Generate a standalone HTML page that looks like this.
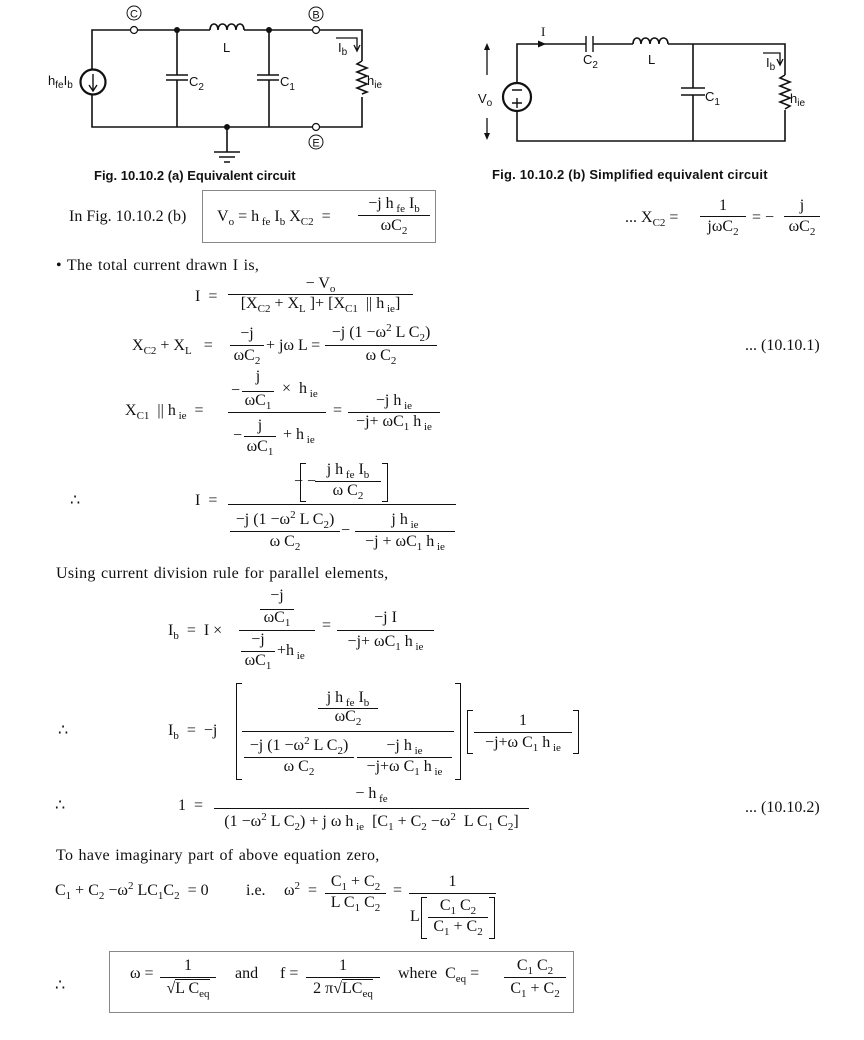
<!DOCTYPE html>
<html><head><meta charset="utf-8">
<style>
body{margin:0;background:#fff}
#p{position:relative;width:864px;height:1040px;overflow:hidden;font-family:"Liberation Serif",serif;font-size:16px;color:#111}
.t{position:absolute;white-space:nowrap;line-height:16px}
.c{position:absolute;white-space:nowrap;line-height:16px;text-align:center}
.l{position:absolute;height:0;border-top:1px solid #111}
.pr{letter-spacing:0.3px;word-spacing:1px}
sub,sup{font-size:11px;line-height:0}
sub{vertical-align:-4px}
sup{vertical-align:6px}
.bx{position:absolute;border:1.5px solid #888}
.br{position:absolute;border:1px solid #111}
.bl{border-right:none;width:5px}
.bR{border-left:none;width:5px}
.cap{position:absolute;font-family:"Liberation Sans",sans-serif;font-weight:bold;font-size:13px;white-space:nowrap}
</style></head><body><div id="p">
<svg width="864" height="200" style="position:absolute;left:0;top:0" font-family="Liberation Sans, sans-serif" font-size="13" fill="none" stroke="#111" stroke-width="1.6">
<path d="M92 69V30H130.5M137.5 30H210M244 30H312.5M319.5 30H362V61M362 97V127H319.5M312.5 127H92V95"/>
<path d="M210 30c0-8 8-8 8 0c0-8 9-8 9 0c0-8 9-8 9 0c0-8 8-8 8 0"/>
<path d="M362 61l-5 3l10 4l-10 4l10 4l-10 4l10 4l-10 4l10 4l-5 2"/>
<circle cx="134" cy="30" r="3.5" stroke-width="1.2"/><circle cx="316" cy="30" r="3.5" stroke-width="1.2"/><circle cx="316" cy="127" r="3.5" stroke-width="1.2"/>
<circle cx="93" cy="82" r="12.5" stroke-width="2.2"/>
<path d="M93 74V90M89 85l4 6l4-6" stroke-width="1.4"/>
<path d="M177 30V75M166 75H188M166 80H188M177 80V127M269 30V75M257 75H279M257 80H279M269 80V127"/>
<path d="M227 127V152M214 152H240M219 157H235M224 162H230"/>
<g fill="#111" stroke="none"><circle cx="177" cy="30" r="3"/><circle cx="269" cy="30" r="3"/><circle cx="227" cy="127" r="3"/></g>
<g stroke-width="1"><circle cx="134" cy="13" r="7"/><circle cx="316" cy="14" r="7"/><circle cx="316" cy="142" r="7"/></g>
<path d="M336 38H357V50M354 45l3 6l3-6" stroke-width="1.3"/>
<g fill="#111" stroke="none">
<text x="134" y="17.5" text-anchor="middle" font-size="11">C</text>
<text x="316" y="18.5" text-anchor="middle" font-size="11">B</text>
<text x="316" y="146.5" text-anchor="middle" font-size="11">E</text>
<text x="223" y="52">L</text>
<text x="189" y="86">C<tspan font-size="10" dy="4">2</tspan></text>
<text x="280" y="86">C<tspan font-size="10" dy="4">1</tspan></text>
<text x="367" y="85">h<tspan font-size="10" dy="3">ie</tspan></text>
<text x="48" y="85">h<tspan font-size="10" dy="3">fe</tspan><tspan dy="-3">I</tspan><tspan font-size="10" dy="3">b</tspan></text>
<text x="338" y="52">I<tspan font-size="10" dy="3">b</tspan></text>
</g>
<path d="M517 83V44H586M593 44H633M668 44H785V75M785 110V141H517V111"/>
<path d="M586 36V52M593 36V52" stroke-width="1.4"/>
<path d="M633 44c0-8 8-8 8 0c0-8 9-8 9 0c0-8 9-8 9 0c0-8 9-8 9 0"/>
<path d="M785 75l-5 3l10 4l-10 4l10 4l-10 4l10 4l-10 4l10 4l-5 3"/>
<circle cx="517" cy="97" r="14" stroke-width="2.2"/>
<path d="M693 44V88M681 88H705M681 95H705M693 95V141"/>
<path d="M512 90H522M512 103H522M517 98V108" stroke-width="1.4"/>
<path d="M487 48V75M487 118V138" stroke-width="1.3"/>
<path d="M546 44l-8-3.5v7z" fill="#111" stroke="none"/>
<path d="M484 50l3-7l3 7zM484 133l3 7l3-7z" fill="#111" stroke="none"/>
<path d="M763 53H780V64M777 59l3 6l3-6" stroke-width="1.3"/>
<g fill="#111" stroke="none">
<text x="541" y="36" font-family="Liberation Serif, serif">I</text>
<text x="583" y="64">C<tspan font-size="10" dy="4">2</tspan></text>
<text x="648" y="64">L</text>
<text x="705" y="101">C<tspan font-size="10" dy="4">1</tspan></text>
<text x="790" y="103">h<tspan font-size="10" dy="3">ie</tspan></text>
<text x="478" y="103">V<tspan font-size="10" dy="3">o</tspan></text>
<text x="766" y="67">I<tspan font-size="10" dy="3">b</tspan></text>
</g>
</svg>
<div class="cap" style="left:94px;top:168px">Fig. 10.10.2 (a) Equivalent circuit</div>
<div class="cap" style="left:492px;top:167px;letter-spacing:0.2px">Fig. 10.10.2 (b) Simplified equivalent circuit</div>

<div class="t" style="left:69px;top:209px">In Fig. 10.10.2 (b)</div>
<div class="bx" style="left:202px;top:190px;width:232px;height:51px"></div>
<div class="t" style="left:217px;top:209px">V<sub>o</sub> = h<sub> fe</sub> I<sub>b</sub> X<sub>C2</sub> &nbsp;=</div>
<div class="c" style="left:358px;width:72px;top:196px">−j h<sub> fe</sub> I<sub>b</sub></div>
<div class="l" style="left:358px;width:72px;top:215px"></div>
<div class="c" style="left:358px;width:72px;top:218px">ωC<sub>2</sub></div>

<div class="t" style="left:625px;top:210px">... X<sub>C2</sub> =</div>
<div class="c" style="left:700px;width:46px;top:198px">1</div>
<div class="l" style="left:700px;width:46px;top:216px"></div>
<div class="c" style="left:700px;width:46px;top:219px">jωC<sub>2</sub></div>
<div class="t" style="left:752px;top:210px">= −</div>
<div class="c" style="left:784px;width:36px;top:198px">j</div>
<div class="l" style="left:784px;width:36px;top:216px"></div>
<div class="c" style="left:784px;width:36px;top:219px">ωC<sub>2</sub></div>

<div class="t pr" style="left:56px;top:258px">• The total current drawn I is,</div>
<div class="t" style="left:195px;top:289px">I &nbsp;=</div>
<div class="c" style="left:228px;width:185px;top:276px">− V<sub>o</sub></div>
<div class="l" style="left:228px;width:185px;top:294px"></div>
<div class="c" style="left:228px;width:185px;top:296px">[X<sub>C2</sub> + X<sub>L</sub> ]+ [X<sub>C1</sub> &nbsp;|| h<sub> ie</sub>]</div>

<div class="t" style="left:132px;top:338px">X<sub>C2</sub> + X<sub>L</sub> &nbsp;&nbsp;=</div>
<div class="c" style="left:230px;width:34px;top:326px">−j</div>
<div class="l" style="left:230px;width:34px;top:345px"></div>
<div class="c" style="left:230px;width:34px;top:348px">ωC<sub>2</sub></div>
<div class="t" style="left:266px;top:338px">+ jω L =</div>
<div class="c" style="left:325px;width:112px;top:325px">−j (1 −ω<sup>2</sup> L C<sub>2</sub>)</div>
<div class="l" style="left:325px;width:112px;top:345px"></div>
<div class="c" style="left:325px;width:112px;top:348px">ω C<sub>2</sub></div>
<div class="t" style="left:745px;top:338px">... (10.10.1)</div>

<div class="t" style="left:125px;top:403px">X<sub>C1</sub> &nbsp;|| h<sub> ie</sub> &nbsp;=</div>
<div class="t" style="left:231px;top:383px">−</div>
<div class="c" style="left:242px;width:32px;top:369px">j</div>
<div class="l" style="left:242px;width:32px;top:391px"></div>
<div class="c" style="left:242px;width:32px;top:393px">ωC<sub>1</sub></div>
<div class="t" style="left:282px;top:381px">× &nbsp;h<sub> ie</sub></div>
<div class="l" style="left:228px;width:98px;top:412px"></div>
<div class="t" style="left:233px;top:428px">−</div>
<div class="c" style="left:244px;width:32px;top:418px">j</div>
<div class="l" style="left:244px;width:32px;top:436px"></div>
<div class="c" style="left:244px;width:32px;top:439px">ωC<sub>1</sub></div>
<div class="t" style="left:283px;top:427px">+ h<sub> ie</sub></div>
<div class="t" style="left:333px;top:403px">=</div>
<div class="c" style="left:348px;width:92px;top:393px">−j h<sub> ie</sub></div>
<div class="l" style="left:348px;width:92px;top:412px"></div>
<div class="c" style="left:348px;width:92px;top:414px">−j+ ωC<sub>1</sub> h<sub> ie</sub></div>

<div class="t" style="left:70px;top:493px">∴</div>
<div class="t" style="left:195px;top:493px">I &nbsp;=</div>
<div class="t" style="left:294px;top:474px">−</div>
<div class="br bl" style="left:300px;top:463px;height:37px"></div>
<div class="t" style="left:307px;top:474px">−</div>
<div class="c" style="left:315px;width:66px;top:462px">j h<sub> fe</sub> I<sub>b</sub></div>
<div class="l" style="left:315px;width:66px;top:481px"></div>
<div class="c" style="left:315px;width:66px;top:483px">ω C<sub>2</sub></div>
<div class="br bR" style="left:382px;top:463px;height:37px"></div>
<div class="l" style="left:228px;width:228px;top:504px"></div>
<div class="c" style="left:230px;width:110px;top:512px">−j (1 −ω<sup>2</sup> L C<sub>2</sub>)</div>
<div class="l" style="left:230px;width:110px;top:531px"></div>
<div class="c" style="left:230px;width:110px;top:534px">ω C<sub>2</sub></div>
<div class="t" style="left:341px;top:523px">−</div>
<div class="c" style="left:355px;width:100px;top:512px">j h<sub> ie</sub></div>
<div class="l" style="left:355px;width:100px;top:531px"></div>
<div class="c" style="left:355px;width:100px;top:534px">−j + ωC<sub>1</sub> h<sub> ie</sub></div>

<div class="t pr" style="left:56px;top:566px">Using current division rule for parallel elements,</div>
<div class="t" style="left:168px;top:623px">I<sub>b</sub> &nbsp;= &nbsp;I ×</div>
<div class="c" style="left:260px;width:34px;top:588px">−j</div>
<div class="l" style="left:260px;width:34px;top:609px"></div>
<div class="c" style="left:260px;width:34px;top:610px">ωC<sub>1</sub></div>
<div class="l" style="left:239px;width:76px;top:630px"></div>
<div class="c" style="left:241px;width:34px;top:632px">−j</div>
<div class="l" style="left:241px;width:34px;top:651px"></div>
<div class="c" style="left:241px;width:34px;top:653px">ωC<sub>1</sub></div>
<div class="t" style="left:277px;top:643px">+h<sub> ie</sub></div>
<div class="t" style="left:322px;top:618px">=</div>
<div class="c" style="left:337px;width:97px;top:610px">−j I</div>
<div class="l" style="left:337px;width:97px;top:630px"></div>
<div class="c" style="left:337px;width:97px;top:634px">−j+ ωC<sub>1</sub> h<sub> ie</sub></div>

<div class="t" style="left:58px;top:723px">∴</div>
<div class="t" style="left:168px;top:723px">I<sub>b</sub> &nbsp;= &nbsp;−j</div>
<div class="br bl" style="left:236px;top:683px;height:95px"></div>
<div class="c" style="left:318px;width:60px;top:690px">j h<sub> fe</sub> I<sub>b</sub></div>
<div class="l" style="left:318px;width:60px;top:708px"></div>
<div class="c" style="left:318px;width:60px;top:709px">ωC<sub>2</sub></div>
<div class="l" style="left:242px;width:212px;top:731px"></div>
<div class="c" style="left:244px;width:110px;top:738px">−j (1 −ω<sup>2</sup> L C<sub>2</sub>)</div>
<div class="l" style="left:244px;width:110px;top:757px"></div>
<div class="c" style="left:244px;width:110px;top:759px">ω C<sub>2</sub></div>
<div class="c" style="left:357px;width:95px;top:738px">−j h<sub> ie</sub></div>
<div class="l" style="left:357px;width:95px;top:757px"></div>
<div class="c" style="left:357px;width:95px;top:759px">−j+ω C<sub>1</sub> h<sub> ie</sub></div>
<div class="br bR" style="left:455px;top:683px;height:95px"></div>
<div class="br bl" style="left:467px;top:710px;height:42px"></div>
<div class="c" style="left:474px;width:98px;top:713px">1</div>
<div class="l" style="left:474px;width:98px;top:732px"></div>
<div class="c" style="left:474px;width:98px;top:735px">−j+ω C<sub>1</sub> h<sub> ie</sub></div>
<div class="br bR" style="left:573px;top:710px;height:42px"></div>

<div class="t" style="left:55px;top:798px">∴</div>
<div class="t" style="left:178px;top:798px">1 &nbsp;=</div>
<div class="c" style="left:214px;width:315px;top:786px">− h<sub> fe</sub></div>
<div class="l" style="left:214px;width:315px;top:808px"></div>
<div class="c" style="left:214px;width:315px;top:814px">(1 −ω<sup>2</sup> L C<sub>2</sub>) + j ω h<sub> ie</sub> &nbsp;[C<sub>1</sub> + C<sub>2</sub> −ω<sup>2</sup> &nbsp;L C<sub>1</sub> C<sub>2</sub>]</div>
<div class="t" style="left:745px;top:800px">... (10.10.2)</div>

<div class="t pr" style="left:56px;top:848px">To have imaginary part of above equation zero,</div>
<div class="t" style="left:55px;top:883px">C<sub>1</sub> + C<sub>2</sub> −ω<sup>2</sup> LC<sub>1</sub>C<sub>2</sub> &nbsp;= 0</div>
<div class="t" style="left:246px;top:883px">i.e.</div>
<div class="t" style="left:284px;top:883px">ω<sup>2</sup> &nbsp;=</div>
<div class="c" style="left:325px;width:61px;top:874px">C<sub>1</sub> + C<sub>2</sub></div>
<div class="l" style="left:325px;width:61px;top:893px"></div>
<div class="c" style="left:325px;width:61px;top:895px">L C<sub>1</sub> C<sub>2</sub></div>
<div class="t" style="left:393px;top:883px">=</div>
<div class="c" style="left:409px;width:87px;top:874px">1</div>
<div class="l" style="left:409px;width:87px;top:893px"></div>
<div class="t" style="left:410px;top:909px">L</div>
<div class="br bl" style="left:421px;top:897px;height:40px"></div>
<div class="c" style="left:428px;width:60px;top:898px">C<sub>1</sub> C<sub>2</sub></div>
<div class="l" style="left:428px;width:60px;top:917px"></div>
<div class="c" style="left:428px;width:60px;top:919px">C<sub>1</sub> + C<sub>2</sub></div>
<div class="br bR" style="left:489px;top:897px;height:40px"></div>

<div class="bx" style="left:109px;top:951px;width:463px;height:60px"></div>
<div class="t" style="left:55px;top:978px">∴</div>
<div class="t" style="left:130px;top:966px">ω =</div>
<div class="c" style="left:160px;width:56px;top:958px">1</div>
<div class="l" style="left:160px;width:56px;top:977px"></div>
<div class="c" style="left:160px;width:56px;top:981px">√<span style="border-top:1px solid #111">L C<sub>eq</sub></span></div>
<div class="t" style="left:235px;top:966px">and</div>
<div class="t" style="left:280px;top:966px">f =</div>
<div class="c" style="left:306px;width:74px;top:958px">1</div>
<div class="l" style="left:306px;width:74px;top:977px"></div>
<div class="c" style="left:306px;width:74px;top:981px">2 π√<span style="border-top:1px solid #111">LC<sub>eq</sub></span></div>
<div class="t" style="left:398px;top:966px">where &nbsp;C<sub>eq</sub> =</div>
<div class="c" style="left:504px;width:62px;top:958px">C<sub>1</sub> C<sub>2</sub></div>
<div class="l" style="left:504px;width:62px;top:977px"></div>
<div class="c" style="left:504px;width:62px;top:981px">C<sub>1</sub> + C<sub>2</sub></div>
</div></body></html>
